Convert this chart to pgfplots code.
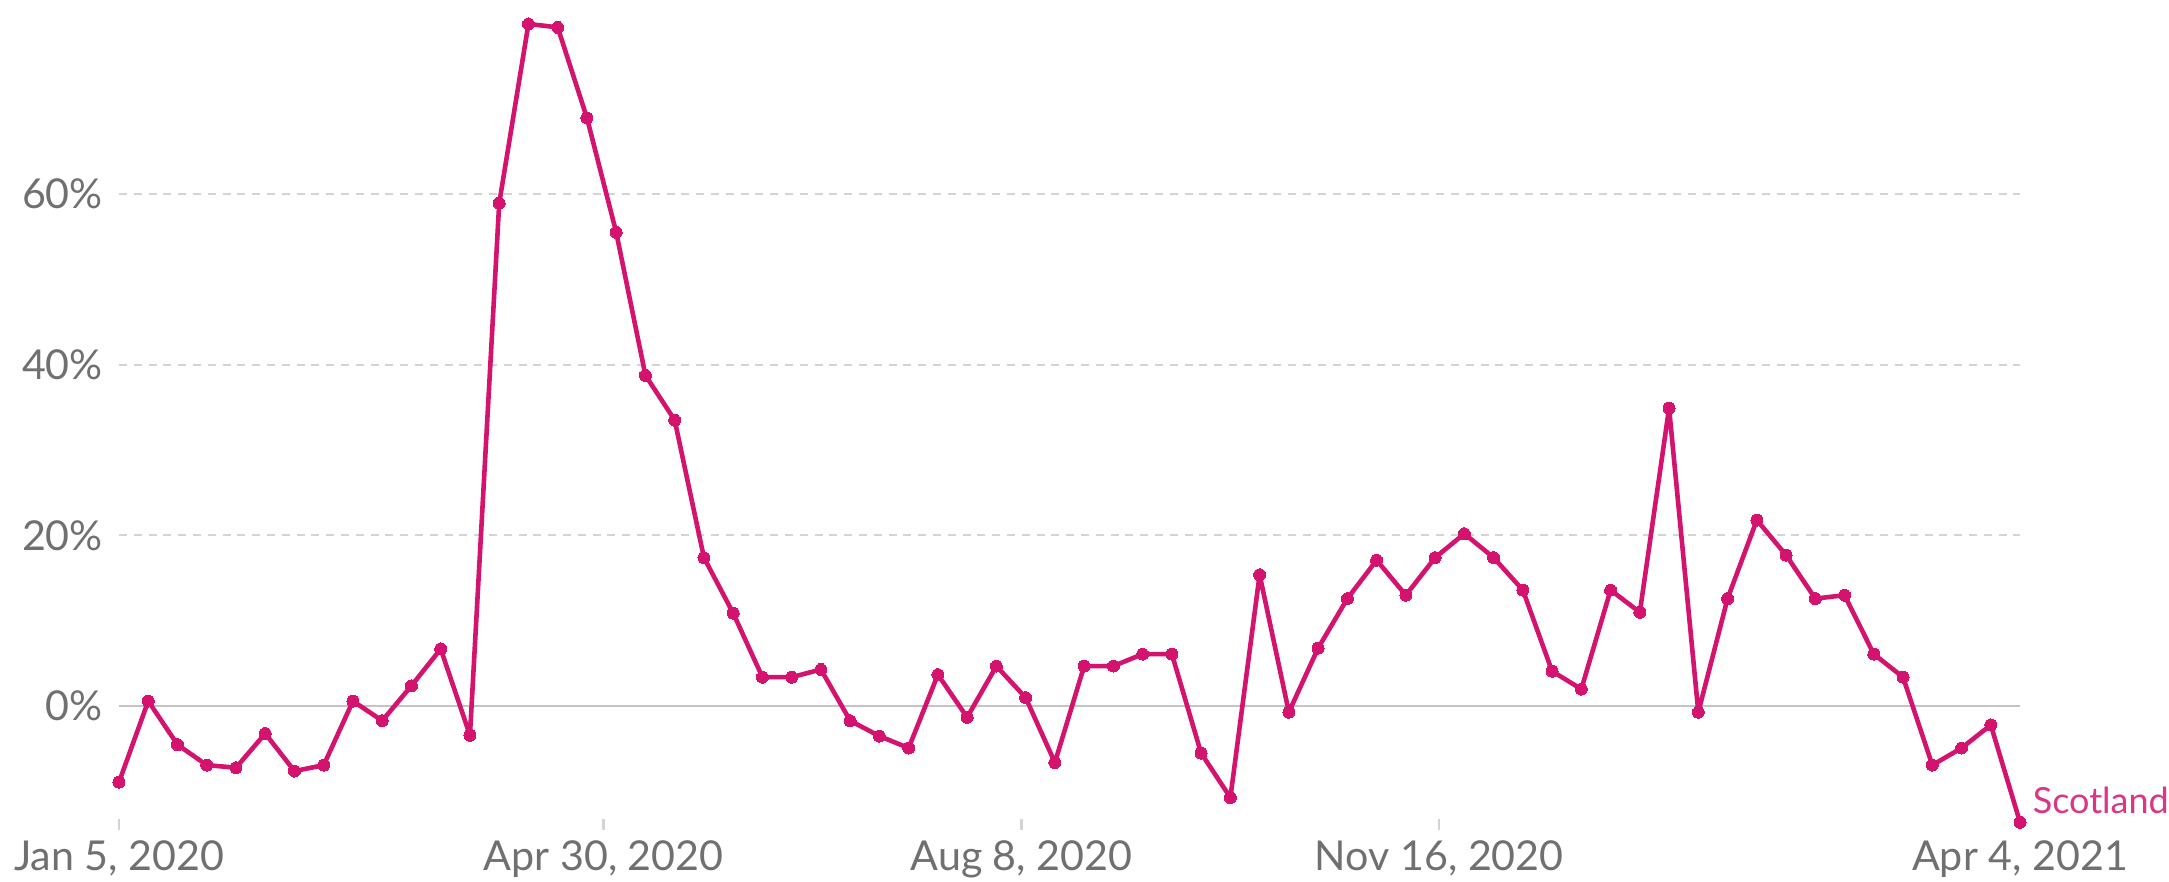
\documentclass[border=0pt]{standalone}
\usepackage{fontspec}
\setmainfont{Lato}
\usepackage{pgfplots}
\pgfplotsset{compat=1.18}
\definecolor{scot}{HTML}{D3136E}
\definecolor{txtgray}{HTML}{707070}
\definecolor{gridgray}{HTML}{D4D4D4}
\definecolor{zerogray}{HTML}{C4C4C4}
\begin{document}
\begin{tikzpicture}
\begin{axis}[
  at={(29.75pt,12.75pt)}, anchor=south west,
  scale only axis, width=475.25pt, height=206pt,
  xmin=0, xmax=455, ymin=-14.5, ymax=82,
  clip=false,
  axis line style={draw=none},
  xtick pos=bottom, ytick pos=left,
  xtick={0,116,216,316,455},
  xticklabels={{Jan 5, 2020},{Apr 30, 2020},{Aug 8, 2020},{Nov 16, 2020},{Apr 4, 2021}},
  ytick={0,20,40,60},
  yticklabels={0\%,20\%,40\%,60\%},
  tick label style={font=\fontsize{10.3}{12}\selectfont, text=txtgray},
  yticklabel style={xshift=-0.5pt},
  xticklabel style={yshift=1pt},
  ytick style={draw=none},
  xtick style={draw=gridgray, line width=0.6pt},
  tick align=inside, major tick length=2.8pt,
  ymajorgrids,
  grid style={gridgray, line width=0.5pt, dash pattern=on 2pt off 1.7pt},
]
\draw[zerogray, line width=0.5pt] (axis cs:0,0) -- (axis cs:455,0);
\addplot[scot, line width=1.15pt, line join=round, mark=*, mark size=1.5pt, mark options={fill=scot, draw=scot, line width=0pt}] coordinates {
(0,-8.9) (7,0.6) (14,-4.5) (21,-6.9) (28,-7.2) (35,-3.2) (42,-7.6) (49,-6.9) (56,0.6) (63,-1.7)
(70,2.4) (77,6.7) (84,-3.4) (91,58.9) (98,79.9) (105,79.5) (112,68.9) (119,55.5) (126,38.75) (133,33.5)
(140,17.4) (147,10.9) (154,3.4) (161,3.4) (168,4.3) (175,-1.7) (182,-3.5) (189,-4.9) (196,3.7) (203,-1.3)
(210,4.7) (217,1.0) (224,-6.6) (231,4.7) (238,4.7) (245,6.1) (252,6.1) (259,-5.5) (266,-10.7) (273,15.4)
(280,-0.7) (287,6.8) (294,12.6) (301,17.1) (308,13.0) (315,17.4) (322,20.2) (329,17.4) (336,13.6) (343,4.1)
(350,2.0) (357,13.6) (364,11.0) (371,34.9) (378,-0.7) (385,12.6) (392,21.8) (399,17.7) (406,12.6) (413,13.0)
(420,6.1) (427,3.4) (434,-6.9) (441,-4.9) (448,-2.2) (455,-13.6)
};
\node[anchor=base west, inner sep=0pt, xshift=3pt, text=scot!85!white, font=\fontsize{9}{10}\selectfont] at (axis cs:455,-12.6) {Scotland};
\end{axis}
\pgfresetboundingbox
\path (0,0) rectangle (542.25pt,220.25pt);
\end{tikzpicture}
\end{document}
